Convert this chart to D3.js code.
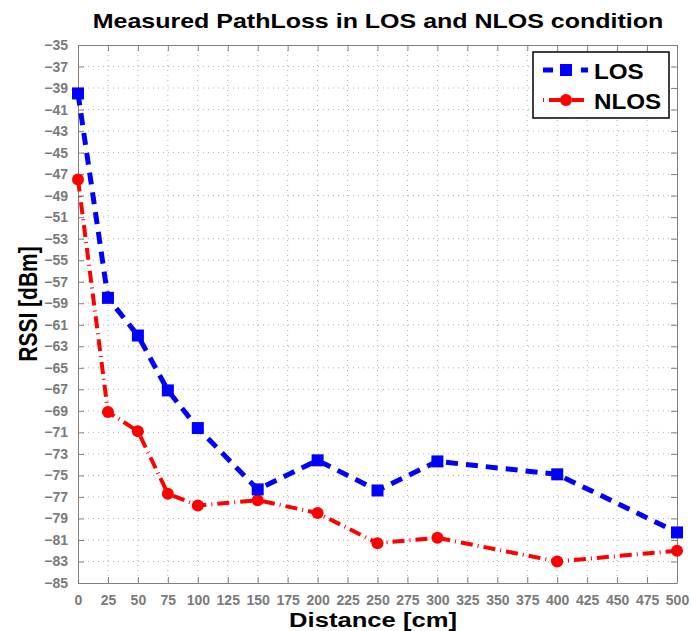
<!DOCTYPE html>
<html>
<head>
<meta charset="utf-8">
<script src="https://cdn.jsdelivr.net/npm/d3@7"></script>
<style>
body { margin: 0; background: #fff; }
text { font-family: "Liberation Sans", Arial, sans-serif; }
</style>
</head>
<body>
<div id="chart"></div>
<script>
// data
let distances = [0, 25, 50, 75, 100, 150, 200, 250, 300, 400, 500];
let losValues = [-39.5, -58.5, -62, -67.1, -70.6, -76.3, -73.6, -76.4, -73.7, -74.9, -80.3];
let nlosValues = [-47.5, -69.1, -70.9, -76.7, -77.8, -77.3, -78.5, -81.3, -80.8, -83.0, -82.0];
let xTicks = d3.range(0, 501, 25);
let yTicks = d3.range(-85, -34, 2);

let svgWidth = 691, svgHeight = 631;
let margin = { top: 45, right: 14, bottom: 48, left: 78 };
let width = 677 - margin.left;
let height = 583 - margin.top;

let svg = d3.select("#chart").append("svg")
    .attr("width", svgWidth)
    .attr("height", svgHeight);

let g = svg.append("g")
    .attr("transform", `translate(${margin.left}, ${margin.top})`);

let x = d3.scaleLinear().domain([0, 500]).range([0, width]);
let y = d3.scaleLinear().domain([-85, -35]).range([height, 0]);

// dotted grid
g.append("g").selectAll("line").data(xTicks.slice(1, -1)).join("line")
    .attr("x1", d => x(d)).attr("x2", d => x(d))
    .attr("y1", 0).attr("y2", height)
    .attr("stroke", "#b0b0b0").attr("stroke-dasharray", "1,4");
g.append("g").selectAll("line").data(yTicks.slice(1, -1)).join("line")
    .attr("x1", 0).attr("x2", width)
    .attr("y1", d => y(d)).attr("y2", d => y(d))
    .attr("stroke", "#b0b0b0").attr("stroke-dasharray", "1,4");

// axes (ticks inward, box)
let axisColor = "#808080";
function styleAxis(sel) {
    sel.select(".domain").attr("stroke", axisColor);
    sel.selectAll(".tick line").attr("stroke", axisColor);
    sel.selectAll(".tick text")
        .attr("fill", "#7a7a7a")
        .style("font-size", "14px")
        .style("font-weight", "bold");
}
let fmt = d => d < 0 ? "\u2212" + Math.abs(d) : d;

g.append("g").attr("transform", `translate(0, ${height})`)
    .call(d3.axisBottom(x).tickValues(xTicks).tickFormat(fmt).tickSizeInner(-6).tickSizeOuter(0).tickPadding(12))
    .call(styleAxis);
g.append("g")
    .call(d3.axisLeft(y).tickValues(yTicks).tickFormat(fmt).tickSizeInner(-6).tickSizeOuter(0).tickPadding(10))
    .call(styleAxis);
g.append("g")
    .call(d3.axisTop(x).tickValues(xTicks).tickFormat("").tickSizeInner(-6).tickSizeOuter(0))
    .call(styleAxis);
g.append("g").attr("transform", `translate(${width}, 0)`)
    .call(d3.axisRight(y).tickValues(yTicks).tickFormat("").tickSizeInner(-6).tickSizeOuter(0))
    .call(styleAxis);

// lines
let line = d3.line().x(d => x(d[0])).y(d => y(d[1]));
let losData = distances.map((d, i) => [d, losValues[i]]);
let nlosData = distances.map((d, i) => [d, nlosValues[i]]);

g.append("path").datum(nlosData)
    .attr("d", line)
    .attr("fill", "none")
    .attr("stroke", "#ff0000")
    .attr("stroke-width", 4)
    .attr("stroke-dasharray", "12,5,1,5");
g.selectAll(".nlosDot").data(nlosData).join("circle")
    .attr("class", "nlosDot")
    .attr("cx", d => x(d[0])).attr("cy", d => y(d[1]))
    .attr("r", 6).attr("fill", "#ff0000");

g.append("path").datum(losData)
    .attr("d", line)
    .attr("fill", "none")
    .attr("stroke", "#0000ff")
    .attr("stroke-width", 5)
    .attr("stroke-dasharray", "12,8");
g.selectAll(".losDot").data(losData).join("rect")
    .attr("class", "losDot")
    .attr("x", d => x(d[0]) - 6).attr("y", d => y(d[1]) - 6)
    .attr("width", 12).attr("height", 12).attr("fill", "#0000ff");

// legend
let legend = svg.append("g").attr("transform", "translate(533, 52)");
legend.append("rect")
    .attr("width", 136).attr("height", 66)
    .attr("fill", "#fff").attr("stroke", "#000").attr("stroke-width", 1.5);
legend.append("line").attr("x1", 10).attr("x2", 55).attr("y1", 18).attr("y2", 18)
    .attr("stroke", "#0000ff").attr("stroke-width", 5).attr("stroke-dasharray", "10,9");
legend.append("rect").attr("x", 27).attr("y", 12).attr("width", 12).attr("height", 12).attr("fill", "#0000ff");
legend.append("line").attr("x1", 10).attr("x2", 55).attr("y1", 48).attr("y2", 48)
    .attr("stroke", "#ff0000").attr("stroke-width", 4).attr("stroke-dasharray", "1,5,12,5");
legend.append("circle").attr("cx", 33).attr("cy", 48).attr("r", 6).attr("fill", "#ff0000");
legend.append("text").attr("transform", "translate(61, 27) scale(1.1, 1)")
    .style("font-size", "22px").style("font-weight", "bold").text("LOS");
legend.append("text").attr("transform", "translate(61, 57) scale(1.1, 1)")
    .style("font-size", "22px").style("font-weight", "bold").text("NLOS");

// title and axis labels (glyphs are wider than plain Arial in the original)
svg.append("text")
    .attr("transform", "translate(378, 28) scale(1.19, 1)")
    .attr("text-anchor", "middle")
    .style("font-size", "21px").style("font-weight", "bold")
    .text("Measured PathLoss in LOS and NLOS condition");
svg.append("text")
    .attr("transform", "translate(373, 627) scale(1.22, 1)")
    .attr("text-anchor", "middle")
    .style("font-size", "21px").style("font-weight", "bold")
    .text("Distance [cm]");
svg.append("text")
    .attr("transform", "translate(37, 304) rotate(-90) scale(1, 1.22)")
    .attr("text-anchor", "middle")
    .style("font-size", "21px").style("font-weight", "bold")
    .text("RSSI [dBm]");
</script>
</body>
</html>
